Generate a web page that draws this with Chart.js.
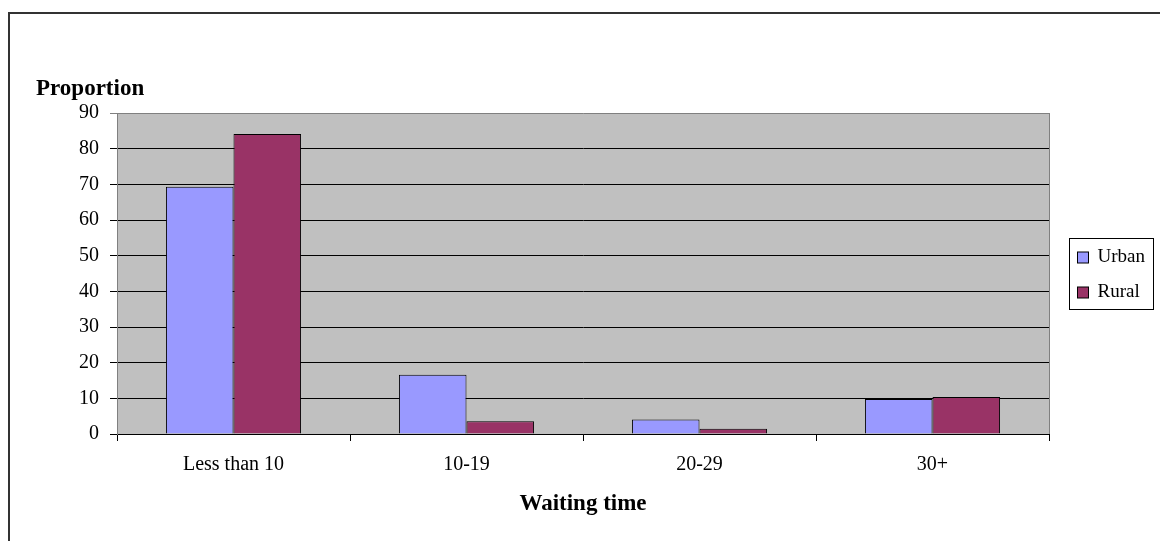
<!DOCTYPE html>
<html>
<head>
<meta charset="utf-8">
<script src="https://cdn.jsdelivr.net/npm/chart.js@4/dist/chart.umd.min.js"></script>
<style>
  html, body { margin: 0; padding: 0; background: #fff; }
  #wrap { width: 1160px; height: 541px; }
</style>
</head>
<body>
<div id="wrap"><canvas id="bar-chart"></canvas></div>
<script>
  // chart data
  var categories = ['Less than 10', '10-19', '20-29', '30+'];
  var urban = [69.3, 16.6, 4.1, 9.8];
  var rural = [84.1, 3.6, 1.5, 10.4];
  var yTicks = [0, 10, 20, 30, 40, 50, 60, 70, 80, 90];

  var serif = "'Liberation Serif', 'Times New Roman', serif";

  // gray plot background, outer frame, right edge of plot, y title and boxed legend
  var decor = {
    id: 'decor',
    beforeDraw: function (chart) {
      var a = chart.chartArea, ctx = chart.ctx;
      ctx.save();
      ctx.fillStyle = '#C0C0C0';
      ctx.fillRect(a.left, a.top, a.right - a.left, a.bottom - a.top);
      ctx.restore();
    },
    afterDraw: function (chart) {
      var a = chart.chartArea, ctx = chart.ctx;
      ctx.save();
      // outer frame
      ctx.strokeStyle = '#333';
      ctx.lineWidth = 2;
      ctx.beginPath();
      ctx.moveTo(9, chart.height);
      ctx.lineTo(9, 13);
      ctx.lineTo(chart.width, 13);
      ctx.stroke();
      // right plot edge
      ctx.strokeStyle = '#808080';
      ctx.lineWidth = 1;
      ctx.beginPath();
      ctx.moveTo(a.right + 0.5, a.top);
      ctx.lineTo(a.right + 0.5, a.bottom);
      ctx.stroke();
      // y title
      ctx.fillStyle = '#000';
      ctx.font = 'bold 23px ' + serif;
      ctx.textBaseline = 'alphabetic';
      ctx.textAlign = 'left';
      ctx.fillText('Proportion', 36, 95);
      // legend
      var lx = a.right + 20.5, ly = 238.5;
      ctx.strokeStyle = '#000';
      ctx.lineWidth = 1;
      ctx.strokeRect(lx, ly, 84, 71);
      ctx.font = '19px ' + serif;
      ctx.textBaseline = 'middle';
      chart.data.datasets.forEach(function (ds, i) {
        var cy = ly + 19 + i * 35;
        ctx.fillStyle = ds.backgroundColor;
        ctx.fillRect(lx + 8, cy - 5.5, 11, 11);
        ctx.strokeRect(lx + 8, cy - 5.5, 11, 11);
        ctx.fillStyle = '#000';
        ctx.fillText(ds.label, lx + 28, cy);
      });
      ctx.restore();
    }
  };

  var ctxBar = document.getElementById('bar-chart').getContext('2d');
  new Chart(ctxBar, {
    type: 'bar',
    data: {
      labels: categories,
      datasets: [{
        label: 'Urban',
        data: urban,
        backgroundColor: '#9999FF',
        borderColor: '#000',
        borderWidth: 1
      }, {
        label: 'Rural',
        data: rural,
        backgroundColor: '#993366',
        borderColor: '#000',
        borderWidth: 1
      }]
    },
    options: {
      responsive: true,
      maintainAspectRatio: false,
      animation: false,
      layout: { padding: { left: 0, top: 113, right: 111, bottom: 0 } },
      datasets: { bar: { categoryPercentage: 0.58, barPercentage: 1.0 } },
      scales: {
        x: {
          offset: true,
          grid: { offset: true, drawOnChartArea: false, drawTicks: true, tickLength: 7, color: '#000' },
          border: { color: '#000', width: 1 },
          ticks: { color: '#000', padding: 12, font: { family: serif, size: 20 } },
          title: { display: true, text: 'Waiting time', color: '#000',
                   font: { family: serif, size: 23, weight: 'bold' }, padding: { top: 0, bottom: 23 } },
          afterFit: function (s) { s.height = 107; }
        },
        y: {
          min: 0,
          max: 90,
          afterBuildTicks: function (s) { s.ticks = yTicks.map(function (v) { return { value: v }; }); },
          grid: {
            tickLength: 7,
            color: function (c) { return c.tick && c.tick.value === 90 ? '#808080' : '#000'; }
          },
          border: { color: '#808080', width: 1 },
          ticks: { color: '#000', padding: 11, font: { family: serif, size: 20 } },
          afterFit: function (s) { s.width = 117; }
        }
      },
      plugins: {
        legend: { display: false },
        tooltip: { enabled: false }
      }
    },
    plugins: [decor]
  });
</script>
</body>
</html>
